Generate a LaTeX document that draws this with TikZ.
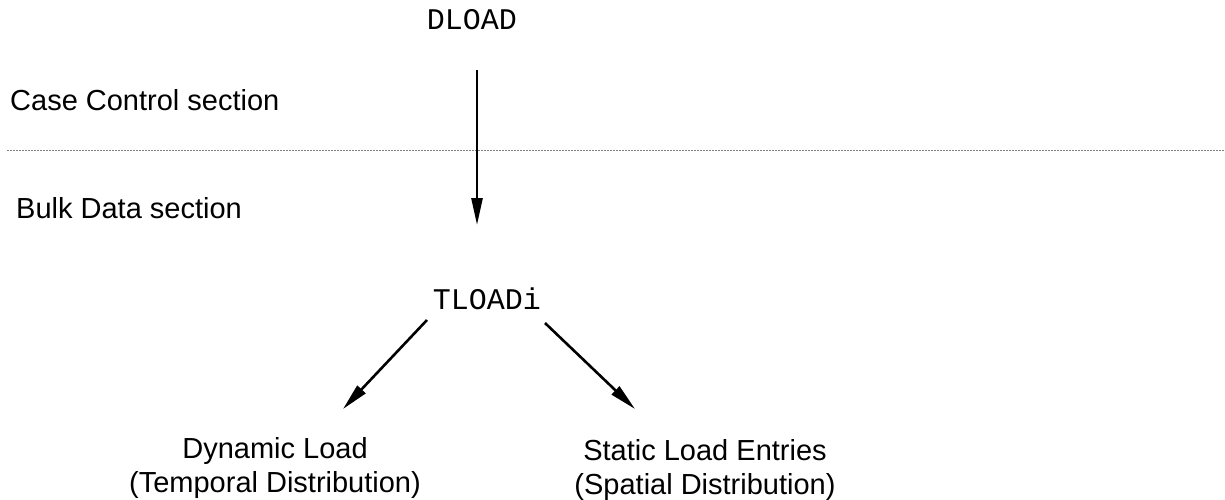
\documentclass[tikz,border=0pt]{standalone}
\usepackage{fontspec}
\setmainfont{Liberation Sans}
\newfontfamily\monofont{Liberation Mono}
\usetikzlibrary{arrows.meta}
\begin{document}
\begin{tikzpicture}[x=1pt,y=-1pt,
  sanslabel/.style={inner sep=0pt,font=\fontsize{29}{34}\selectfont},
  monolabel/.style={inner sep=0pt,font=\monofont\fontsize{30}{36}\selectfont},
  flow/.style={line width=2.6pt,-{Triangle[length=27pt,width=11pt]}},
  divider/.style={gray,line width=1.2pt,dash pattern=on 2pt off 1pt}]
\useasboundingbox (0,0) rectangle (1225,499);
\node[monolabel,anchor=base] (dload) at (472,29) {DLOAD};
\node[monolabel,anchor=base] (tload) at (487,309) {TLOADi};
\node[sanslabel,anchor=base west] (cc) at (10,110) {Case Control section};
\node[sanslabel,anchor=base west] (bd) at (16,218) {Bulk Data section};
\node[sanslabel,anchor=base,align=center] (dyn) at (275,492) {Dynamic Load\\(Temporal Distribution)};
\node[sanslabel,anchor=base,align=center] (sta) at (705,494) {Static Load Entries\\(Spatial Distribution)};
\coordinate (dl0) at (7,150.5);
\coordinate (dl1) at (1225,150.5);
\draw[divider] (dl0) -- (dl1);
\coordinate (v0) at (477,70);
\coordinate (v1) at (477,225);
\coordinate (l0) at (427,320);
\coordinate (l1) at (343,409);
\coordinate (r0) at (545,323);
\coordinate (r1) at (635,409);
\draw[flow] (v0) -- (v1);
\draw[flow] (l0) -- (l1);
\draw[flow] (r0) -- (r1);
\end{tikzpicture}
\end{document}
